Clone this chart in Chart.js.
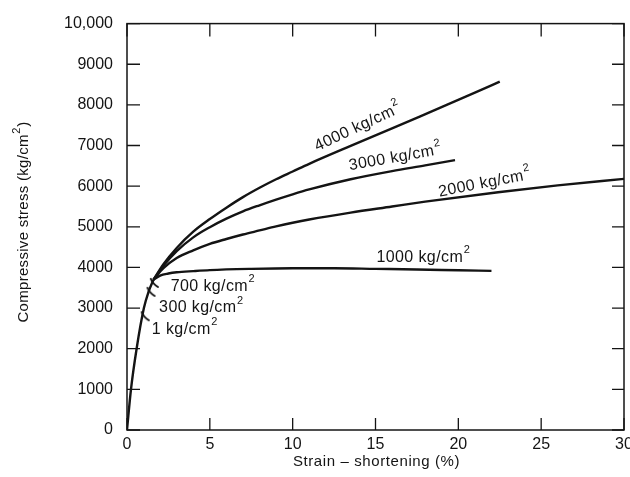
<!DOCTYPE html>
<html><head><meta charset="utf-8">
<script src="https://cdn.jsdelivr.net/npm/chart.js@4"></script>
<style>
html,body{margin:0;padding:0;background:#fff;overflow:hidden;width:630px;height:477px}
#wrap{width:660px;height:477px}
</style></head>
<body><div id="wrap"><canvas id="c" width="660" height="477"></canvas></div>
<script>
// ---- data (strain %, stress kg/cm^2) ----
const elasticStrain = [0, 0.24, 0.58, 1.02, 1.3, 1.6];
const elasticStress = [0, 1000, 2000, 3000, 3400, 3700];
const strain4000 = [1.6, 2.2, 3, 4, 5, 6, 7, 8, 9, 10, 11, 13.5, 16, 18.5, 21, 22.5];
const stress4000 = [3700, 4080, 4480, 4880, 5190, 5470, 5730, 5960, 6170, 6360, 6550, 6990, 7420, 7860, 8300, 8570];
const strain3000 = [1.6, 2.2, 3, 4, 5, 6, 7, 8, 9, 10, 11, 13.5, 16, 18, 19.8];
const stress3000 = [3700, 4040, 4400, 4740, 4990, 5200, 5380, 5530, 5670, 5800, 5920, 6170, 6370, 6510, 6640];
const strain2000 = [1.6, 2.2, 3, 4, 5, 6, 7, 8, 9, 10, 11, 13.5, 16, 18, 22.4, 26, 30];
const stress2000 = [3700, 3980, 4230, 4420, 4580, 4700, 4810, 4910, 5010, 5100, 5180, 5350, 5500, 5620, 5850, 6020, 6180];
const strain1000 = [1.6, 2, 2.5, 3, 4, 5, 7.5, 10, 12.5, 15, 17.5, 20, 22];
const stress1000 = [3700, 3800, 3850, 3880, 3910, 3935, 3965, 3980, 3980, 3965, 3950, 3930, 3915];
// confining pressure marks on the initial curve
const markStrain = [0.95, 1.3, 1.5];
const markStress = [2800, 3400, 3620];
// curve labels
const labelText = ['4000 kg/cm', '3000 kg/cm', '2000 kg/cm', '1000 kg/cm', '700 kg/cm', '300 kg/cm', '1 kg/cm'];
const labelStrain = [13.95, 16.2, 21.6, 17.9, 5.2, 4.5, 3.5];
const labelStress = [7450, 6700, 6070, 4250, 3540, 3010, 2475];
const labelAngle = [-25, -10, -11, 0, 0, 0, 0];
// ticks
const xTicks = [0, 5, 10, 15, 20, 25, 30];
const yTicks = [0, 1000, 2000, 3000, 4000, 5000, 6000, 7000, 8000, 9000, 10000];
const yTickLabels = ['0', '1000', '2000', '3000', '4000', '5000', '6000', '7000', '8000', '9000', '10,000'];

const pts = (xs, ys) => xs.map((x, i) => ({x, y: ys[i]}));
const INK = '#141414';
const FONT = '"Liberation Sans", Arial, Helvetica, sans-serif';

// hook-shaped marker
const hook = document.createElement('canvas');
hook.width = 16; hook.height = 16;
(function(){const g = hook.getContext('2d'); g.strokeStyle = INK; g.lineWidth = 2; g.lineCap='round';
 g.beginPath(); g.moveTo(7, 4); g.quadraticCurveTo(9, 9, 14, 12); g.stroke();})();

const lineDs = (data) => ({data, borderColor: INK, borderWidth: 2.4, pointRadius: 0, cubicInterpolationMode: 'monotone', fill: false});

function supText(ctx, main, tail, cx, size, spacing) {
  ctx.letterSpacing = spacing + 'px';
  ctx.font = size + 'px ' + FONT;
  const w1 = ctx.measureText(main).width;
  const wt = tail ? ctx.measureText(tail).width : 0;
  ctx.font = Math.round(size * 0.7) + 'px ' + FONT;
  const w2 = ctx.measureText('2').width;
  const tot = w1 + w2 + wt + 1;
  const s = cx - tot / 2;
  ctx.textAlign = 'left'; ctx.textBaseline = 'middle';
  ctx.font = size + 'px ' + FONT;
  ctx.fillText(main, s, 0);
  ctx.font = Math.round(size * 0.7) + 'px ' + FONT;
  ctx.fillText('2', s + w1 + 0.5, -size * 0.45);
  if (tail) { ctx.font = size + 'px ' + FONT; ctx.fillText(tail, s + w1 + w2 + 1, 0); }
  ctx.letterSpacing = '0px';
}

const decor = {
  id: 'decor',
  afterDraw(chart) {
    const {ctx, chartArea: a, scales: {x, y}} = chart;
    ctx.save();
    ctx.strokeStyle = INK; ctx.lineWidth = 1.5;
    ctx.strokeRect(a.left, a.top, a.right - a.left, a.bottom - a.top);
    ctx.lineWidth = 1.3;
    ctx.beginPath();
    xTicks.forEach(v => { const p = x.getPixelForValue(v);
      ctx.moveTo(p, a.bottom); ctx.lineTo(p, a.bottom - 12);
      ctx.moveTo(p, a.top); ctx.lineTo(p, a.top + 13); });
    yTicks.forEach(v => { const p = y.getPixelForValue(v);
      ctx.moveTo(a.left, p); ctx.lineTo(a.left + 13, p);
      ctx.moveTo(a.right, p); ctx.lineTo(a.right - 12, p); });
    ctx.stroke();
    ctx.fillStyle = INK;
    labelText.forEach((t, i) => {
      const px = x.getPixelForValue(labelStrain[i]), py = y.getPixelForValue(labelStress[i]);
      ctx.save();
      ctx.translate(px, py); ctx.rotate(labelAngle[i] * Math.PI / 180);
      supText(ctx, t, '', 0, 16, 0.4);
      ctx.restore();
    });
    // axis titles
    ctx.save();
    ctx.translate(0, 462);
    ctx.font = '15px ' + FONT;
    ctx.letterSpacing = '0.6px';
    ctx.textAlign = 'center'; ctx.textBaseline = 'middle';
    ctx.fillText('Strain \u2013 shortening (%)', (a.left + a.right) / 2 + 1, 0);
    ctx.letterSpacing = '0px';
    ctx.restore();
    ctx.save();
    ctx.translate(24, 222);
    ctx.rotate(-Math.PI / 2);
    supText(ctx, 'Compressive stress (kg/cm', ')', 0, 15, 0.3);
    ctx.restore();
    ctx.restore();
  }
};

new Chart(document.getElementById('c'), {
  type: 'line',
  data: {
    datasets: [
      lineDs(pts(elasticStrain, elasticStress)),
      lineDs(pts(strain4000, stress4000)),
      lineDs(pts(strain3000, stress3000)),
      lineDs(pts(strain2000, stress2000)),
      lineDs(pts(strain1000, stress1000)),
      {data: pts(markStrain, markStress), showLine: false, pointStyle: hook, pointRadius: 8, borderColor: INK, backgroundColor: INK}
    ]
  },
  options: {
    responsive: false, animation: false,
    layout: {padding: {top: 17, right: 36, left: 0, bottom: 0}},
    plugins: {legend: {display: false}, tooltip: {enabled: false}},
    scales: {
      x: {
        type: 'linear', min: 0, max: 30,
        afterBuildTicks: s => { s.ticks = xTicks.map(v => ({value: v})); },
        afterFit: s => { s.height = 47; },
        grid: {display: false, drawTicks: false},
        border: {display: false},
        ticks: {color: INK, font: {size: 16, family: FONT}, padding: 5, maxRotation: 0}
      },
      y: {
        type: 'linear', min: 0, max: 10000,
        afterBuildTicks: s => { s.ticks = yTicks.map(v => ({value: v})); },
        afterFit: s => { s.width = 127; },
        grid: {display: false, drawTicks: false},
        border: {display: false},
        ticks: {color: INK, font: {size: 16, family: FONT}, padding: 14,
          callback: (v) => yTickLabels[yTicks.indexOf(v)]}
      }
    }
  },
  plugins: [decor]
});
</script>
</body></html>
